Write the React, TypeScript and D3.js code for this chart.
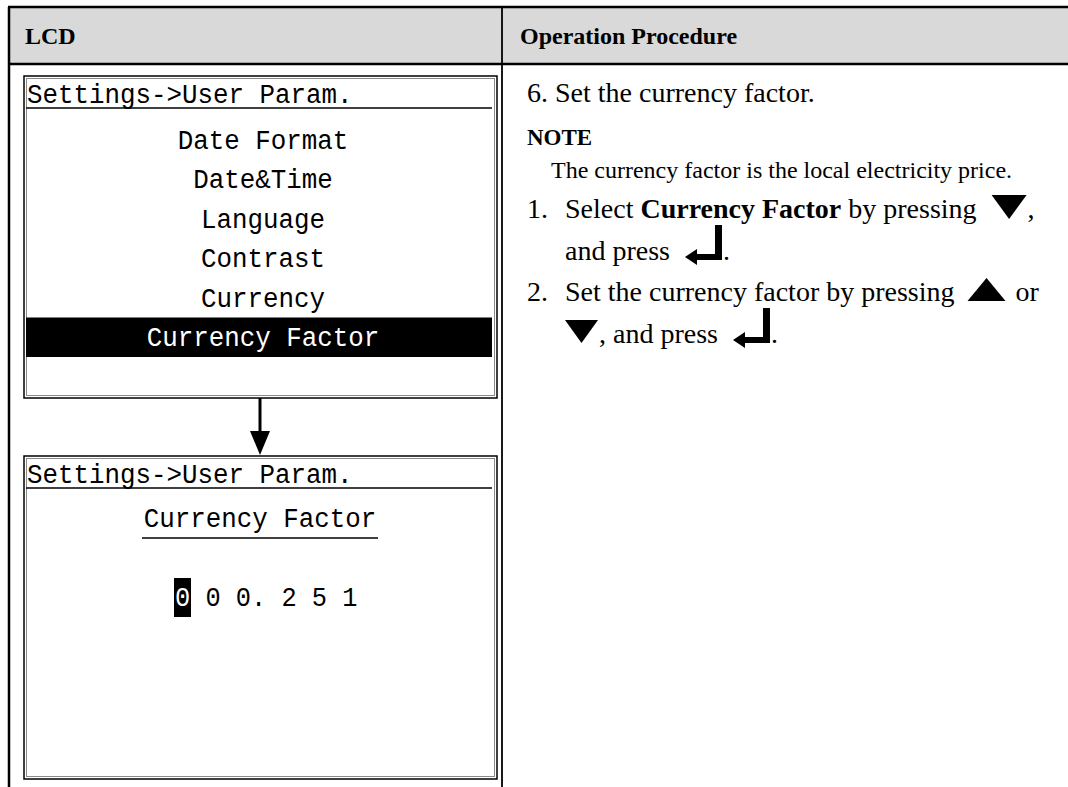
import React, { useEffect, useRef } from 'react'
import * as d3 from 'd3'

// table / screen content
const columnTitles = ['LCD', 'Operation Procedure']
const screenTitle = 'Settings->User Param.'
const menuItems = ['Date Format', 'Date&Time', 'Language', 'Contrast', 'Currency', 'Currency Factor']
const selectedItem = 'Currency Factor'
const factorDigits = ['0', '0', '0.', '2', '5', '1']
const cursorDigit = 0
const stepTitle = '6. Set the currency factor.'
const noteLabel = 'NOTE'
const noteText = 'The currency factor is the local electricity price.'

type Seg = { t?: string, b?: boolean, icon?: 'down' | 'down0' | 'up' | 'enter' }
const step1: Seg[][] = [
    [{ t: 'Select ' }, { t: 'Currency Factor', b: true }, { t: ' by pressing ' }, { icon: 'down' }, { t: ',' }],
    [{ t: 'and press ' }, { icon: 'enter' }, { t: '.' }],
]
const step2: Seg[][] = [
    [{ t: 'Set the currency factor by pressing ' }, { icon: 'up' }, { t: ' or' }],
    [{ icon: 'down0' }, { t: ', and press ' }, { icon: 'enter' }, { t: '.' }],
]

const W = 1068
const H = 787
const SERIF = '"Liberation Serif", "Times New Roman", serif'
const MONO = '"Liberation Mono", "DejaVu Sans Mono", monospace'
const PITCH = 15.5
const LCD_SIZE = 27

function App() {
    const svgRef = useRef<SVGSVGElement>(null)

    useEffect(() => {
        const svg = d3.select(svgRef.current)
        svg.selectAll('*').remove()

        const left = 8, top = 7, headBottom = 64, divider = 502

        // header band
        svg.append('rect').attr('x', left).attr('y', top).attr('width', W - left).attr('height', headBottom - top)
            .attr('fill', '#d9d9d9')
        svg.append('line').attr('x1', left).attr('x2', W).attr('y1', top).attr('y2', top)
            .attr('stroke', '#000').attr('stroke-width', 2.5)
        svg.append('line').attr('x1', left).attr('x2', W).attr('y1', headBottom).attr('y2', headBottom)
            .attr('stroke', '#000').attr('stroke-width', 2.5)
        svg.append('line').attr('x1', left + 1).attr('x2', left + 1).attr('y1', top).attr('y2', H)
            .attr('stroke', '#000').attr('stroke-width', 2.5)
        svg.append('line').attr('x1', divider).attr('x2', divider).attr('y1', top).attr('y2', H)
            .attr('stroke', '#000').attr('stroke-width', 1.8)

        svg.selectAll('text.colhead').data(columnTitles).join('text')
            .attr('class', 'colhead')
            .attr('x', (d, i) => i === 0 ? 25 : 520)
            .attr('y', 44)
            .attr('font-family', SERIF).attr('font-weight', 'bold').attr('font-size', 24)
            .text(d => d)

        // LCD screens
        const boxL = 24, boxR = 497
        const cx = 263
        const screen = (y0: number, y1: number) => {
            svg.append('rect').attr('x', boxL).attr('y', y0).attr('width', boxR - boxL).attr('height', y1 - y0)
                .attr('fill', '#fff').attr('stroke', '#000').attr('stroke-width', 1.5)
            svg.append('rect').attr('x', boxL + 2.5).attr('y', y0 + 2.5).attr('width', boxR - boxL - 5).attr('height', y1 - y0 - 5)
                .attr('fill', 'none').attr('stroke', '#8a8a8a').attr('stroke-width', 1)
            lcdText(svg, screenTitle, 27, y0 + 27, 'start', '#000')
            svg.append('line').attr('x1', 26).attr('x2', 492).attr('y1', y0 + 32).attr('y2', y0 + 32)
                .attr('stroke', '#000').attr('stroke-width', 1.3)
        }

        // screen 1: menu
        screen(76, 398)
        const rowScale = d3.scaleBand<string>().domain(menuItems).range([120, 357])
        svg.append('rect').attr('x', 26).attr('y', rowScale(selectedItem)!)
            .attr('width', 466).attr('height', rowScale.bandwidth()).attr('fill', '#000')
        menuItems.forEach(item => {
            lcdText(svg, item, cx, rowScale(item)! + rowScale.bandwidth() / 2 + 9, 'middle',
                item === selectedItem ? '#fff' : '#000')
        })

        // arrow between screens
        const ax = 260
        svg.append('line').attr('x1', ax).attr('x2', ax).attr('y1', 398).attr('y2', 433)
            .attr('stroke', '#000').attr('stroke-width', 3)
        svg.append('path').attr('d', `M${ax - 10},431 L${ax + 10},431 L${ax},455 Z`).attr('fill', '#000')

        // screen 2: currency factor editor
        screen(456, 779)
        lcdText(svg, selectedItem, cx - 3, 527, 'middle', '#000')
        svg.append('line').attr('x1', 142).attr('x2', 378).attr('y1', 538).attr('y2', 538)
            .attr('stroke', '#000').attr('stroke-width', 1.3)

        // value line with the edit cursor on one digit
        const chars = factorDigits.join(' ').split('')
        const digitPitch = 15.2
        const charScale = d3.scaleBand<number>().domain(d3.range(chars.length)).range([175, 175 + chars.length * digitPitch])
        const digitIdx = chars.map((c, i) => i).filter(i => /[0-9]/.test(chars[i]))
        const cursorCell = digitIdx[cursorDigit]
        svg.append('rect').attr('x', charScale(cursorCell)! - 1).attr('y', 578)
            .attr('width', 17).attr('height', 39).attr('fill', '#000')
        svg.append('text').attr('x', 175).attr('y', 606)
            .attr('font-family', MONO).attr('font-size', LCD_SIZE)
            .attr('textLength', chars.length * digitPitch).attr('lengthAdjust', 'spacingAndGlyphs')
            .style('white-space', 'pre')
            .selectAll('tspan').data(chars).join('tspan')
            .attr('fill', (d, i) => i === cursorCell ? '#fff' : '#000')
            .text(d => d)

        // procedure column
        const tx = 527
        svg.append('text').attr('x', tx).attr('y', 102)
            .attr('font-family', SERIF).attr('font-size', 28).text(stepTitle)
        svg.append('text').attr('x', tx).attr('y', 145)
            .attr('font-family', SERIF).attr('font-weight', 'bold').attr('font-size', 23).text(noteLabel)
        svg.append('text').attr('x', 551).attr('y', 178)
            .attr('font-family', SERIF).attr('font-size', 24).text(noteText)

        const stepLines: [string, Seg[][], number][] = [['1.', step1, 218], ['2.', step2, 301]]
        stepLines.forEach(([num, lines, y]) => {
            svg.append('text').attr('x', tx).attr('y', y)
                .attr('font-family', SERIF).attr('font-size', 28).text(num)
            lines.forEach((segs, li) => richLine(svg, segs, 565, y + li * 42))
        })
    }, [])

    return (
        <svg ref={svgRef} width={W} height={H} style={{ position: 'absolute', left: 0, top: 0, background: '#fff' }}></svg>
    )
}

// fixed-pitch LCD text fitted to the screen's character cells
function lcdText(svg: any, s: string, x: number, y: number, anchor: string, fill: string) {
    svg.append('text').attr('x', x).attr('y', y)
        .attr('text-anchor', anchor)
        .attr('font-family', MONO).attr('font-size', LCD_SIZE)
        .attr('textLength', s.length * PITCH).attr('lengthAdjust', 'spacingAndGlyphs')
        .attr('fill', fill)
        .style('white-space', 'pre')
        .text(s)
}

function richLine(svg: any, segs: Seg[], x0: number, y: number) {
    let x = x0
    segs.forEach(seg => {
        if (seg.icon) {
            const g = svg.append('g').attr('transform', `translate(${x},${y})`)
            if (seg.icon === 'down') {
                g.append('path').attr('d', 'M8,-23 L43,-23 L25.5,1 Z').attr('fill', '#000')
                x += 44
            } else if (seg.icon === 'down0') {
                g.append('path').attr('d', 'M0,-23 L33,-23 L16.5,0 Z').attr('fill', '#000')
                x += 34
            } else if (seg.icon === 'up') {
                g.append('path').attr('d', 'M6,0 L44,0 L25,-23 Z').attr('fill', '#000')
                x += 47
            } else {
                g.append('path')
                    .attr('d', 'M8,-3 L20,-11 L20,-6 L38,-6 L38,-35 L45,-35 L45,0 L20,0 L20,5 Z')
                    .attr('fill', '#000')
                x += 46
            }
            return
        }
        const t = svg.append('text').attr('x', x).attr('y', y)
            .attr('font-family', SERIF).attr('font-size', 28)
            .attr('font-weight', seg.b ? 'bold' : 'normal')
            .style('white-space', 'pre')
            .text(seg.t)
        x += (t.node() as SVGTextElement).getComputedTextLength()
    })
}

export default App
